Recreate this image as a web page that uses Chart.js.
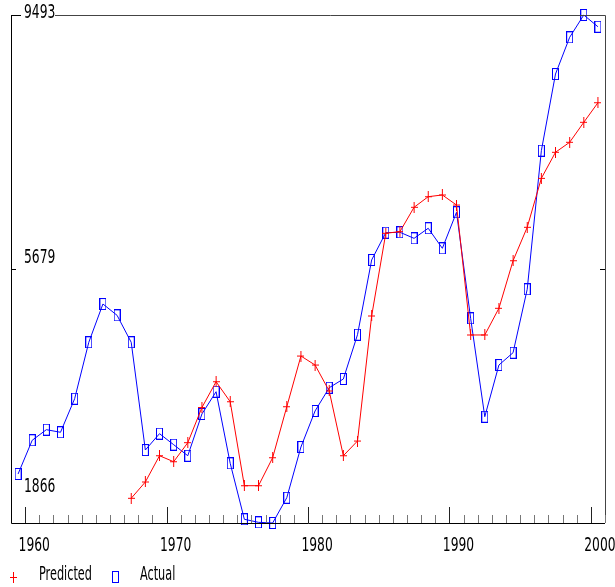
<!DOCTYPE html>
<html lang="en">
<head>
<meta charset="UTF-8">
<title>Predicted vs Actual</title>
<script src="https://cdn.jsdelivr.net/npm/chart.js"></script>
<style>
  html, body { margin: 0; padding: 0; background: #fff; }
  #wrap { width: 615px; height: 587px; }
</style>
</head>
<body>
<div id="wrap"><canvas id="chart" width="615" height="587"></canvas></div>
<script>
// data
const years = [1959, 1960, 1961, 1962, 1963, 1964, 1965, 1966, 1967, 1968,
               1969, 1970, 1971, 1972, 1973, 1974, 1975, 1976, 1977, 1978,
               1979, 1980, 1981, 1982, 1983, 1984, 1985, 1986, 1987, 1988,
               1989, 1990, 1991, 1992, 1993, 1994, 1995, 1996, 1997, 1998,
               1999, 2000];
const actual = [2602, 3108, 3267, 3228, 3732, 4579, 5154, 4984, 4579, 2962,
                3207, 3042, 2876, 3503, 3837, 2762, 1922, 1876, 1866, 2246,
                3007, 3548, 3897, 4028, 4693, 5815, 6225, 6231, 6140, 6291,
                5990, 6531, 4939, 3462, 4238, 4423, 5375, 7456, 8607, 9158,
                9493, 9317];
const predicted = [null, null, null, null, null, null, null, null, 2237, 2482,
                   2876, 2786, 3072, 3600, 3987, 3687, 2426, 2426, 2846, 3612,
                   4373, 4238, 3848, 2876, 3097, 4974, 6216, 6240, 6606, 6765,
                   6791, 6640, 4689, 4689, 5090, 5804, 6306, 7041, 7432, 7582,
                   7882, 8176];
const yTicks = [1866, 5679, 9493];
const xTickLabels = ['1960', '1970', '1980', '1990', '2000'];
const seriesNames = ['Predicted', 'Actual'];

const FONT = '19px "Liberation Sans Narrow", "DejaVu Sans Condensed", sans-serif';

function toPoints(vals) {
  const out = [];
  vals.forEach((v, i) => { if (v !== null) out.push({ x: years[i], y: v }); });
  return out;
}

// marker images
function plusMarker() {
  const c = document.createElement('canvas');
  c.width = 7; c.height = 11;
  const g = c.getContext('2d');
  g.strokeStyle = '#ff0000'; g.lineWidth = 1;
  g.beginPath();
  g.moveTo(3.5, 0); g.lineTo(3.5, 11);
  g.moveTo(0, 5.5); g.lineTo(7, 5.5);
  g.stroke();
  return c;
}
function boxMarker() {
  const c = document.createElement('canvas');
  c.width = 7; c.height = 12;
  const g = c.getContext('2d');
  g.strokeStyle = '#0000ff'; g.lineWidth = 1;
  g.strokeRect(0.5, 0.5, 6, 11);
  return c;
}
const plusImg = plusMarker();
const boxImg = boxMarker();

function squeezeText(ctx, str, x, y, align, sx) {
  ctx.save();
  ctx.font = FONT;
  ctx.textBaseline = 'middle';
  ctx.fillStyle = '#000';
  const w = ctx.measureText(str).width * sx;
  let left = x;
  if (align === 'center') left = x - w / 2;
  ctx.translate(left, y);
  ctx.scale(sx, 1);
  ctx.textAlign = 'left';
  ctx.fillText(str, 0, 0);
  ctx.restore();
}

const framePlugin = {
  id: 'frame',
  afterDatasetsDraw(chart) {
    const { ctx, chartArea: a, scales } = chart;
    const xs = scales.x, ys = scales.y;
    ctx.save();
    ctx.lineWidth = 1;

    // y-axis labels inside the plot, white box behind the top one
    const yOff = [-36, -11, -2];
    yTicks.forEach((t, i) => {
      const py = ys.getPixelForValue(t);
      if (i === 2) {
        ctx.fillStyle = '#fff';
        ctx.fillRect(a.left + 10, py - 8, 34, 16);
      }
      squeezeText(ctx, String(t), a.left + 13, py + yOff[i], 'left', 0.72);
    });

    // frame
    ctx.strokeStyle = '#000';
    ctx.beginPath();
    ctx.moveTo(Math.round(a.left) + 0.5, a.top);
    ctx.lineTo(Math.round(a.left) + 0.5, a.bottom + 0.5);
    ctx.lineTo(a.right, a.bottom + 0.5);
    ctx.stroke();
    ctx.strokeStyle = '#444';
    ctx.beginPath();
    ctx.moveTo(a.left + 44, a.top + 0.5);
    ctx.lineTo(a.right + 0.5, a.top + 0.5);
    ctx.lineTo(a.right + 0.5, a.bottom);
    ctx.stroke();

    // y ticks pointing inward
    ctx.strokeStyle = '#000';
    ctx.beginPath();
    const yTop = Math.round(ys.getPixelForValue(yTicks[2])) + 0.5;
    const yMid = Math.round(ys.getPixelForValue(yTicks[1])) + 0.5;
    ctx.moveTo(a.left, yTop); ctx.lineTo(a.left + 10, yTop);
    ctx.moveTo(a.left, yMid); ctx.lineTo(a.left + 5, yMid);
    ctx.moveTo(a.right, yMid); ctx.lineTo(a.right - 5, yMid);
    ctx.stroke();

    // x ticks at year boundaries, pointing up
    for (let i = 0; i < years.length; i++) {
      const v = years[i] + 0.5;
      const px = Math.round(xs.getPixelForValue(v)) + 0.5;
      const major = v % 10 === 9.5;
      ctx.strokeStyle = major ? '#222' : '#777';
      ctx.beginPath();
      ctx.moveTo(px, a.bottom);
      ctx.lineTo(px, a.bottom - (major ? 16 : 8));
      ctx.stroke();
    }

    // x labels
    xTickLabels.forEach(lbl => {
      const px = xs.getPixelForValue(Number(lbl));
      squeezeText(ctx, lbl, px + 2, a.bottom + 23, 'center', 0.72);
    });

    // legend
    const ly = a.bottom + 54;
    ctx.drawImage(plusImg, 10, ly - 5);
    squeezeText(ctx, seriesNames[0], 39, ly - 2, 'left', 0.66);
    ctx.drawImage(boxImg, 112, ly - 6);
    squeezeText(ctx, seriesNames[1], 140, ly - 2, 'left', 0.66);

    ctx.restore();
  }
};

new Chart(document.getElementById('chart'), {
  type: 'line',
  data: {
    datasets: [
      {
        label: seriesNames[0],
        data: toPoints(predicted),
        borderColor: '#ff0000',
        borderWidth: 1,
        pointStyle: plusImg,
        tension: 0,
        clip: false
      },
      {
        label: seriesNames[1],
        data: toPoints(actual),
        borderColor: '#0000ff',
        borderWidth: 1,
        pointStyle: boxImg,
        tension: 0,
        clip: false
      }
    ]
  },
  options: {
    responsive: false,
    animation: false,
    layout: { padding: { left: 11, right: 10, top: 15, bottom: 64 } },
    plugins: { legend: { display: false }, tooltip: { enabled: false } },
    scales: {
      x: { type: 'linear', min: 1958.5, max: 2000.5, display: false },
      y: { type: 'linear', min: 1866, max: 9493, display: false }
    }
  },
  plugins: [framePlugin]
});
</script>
</body>
</html>
